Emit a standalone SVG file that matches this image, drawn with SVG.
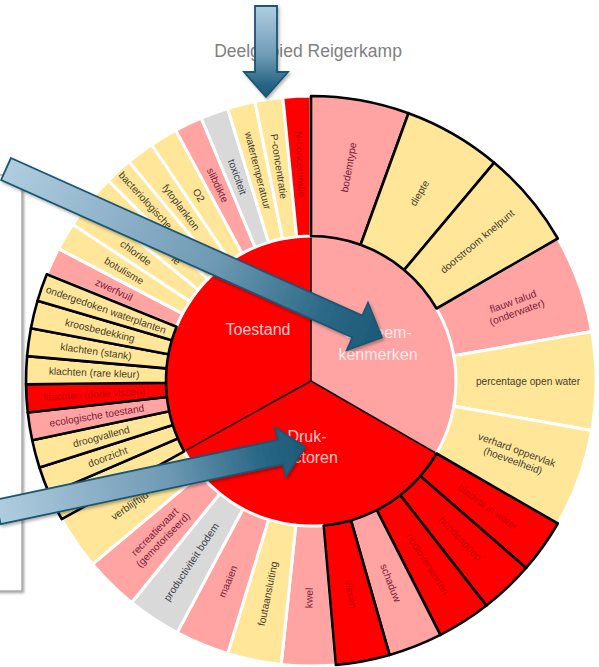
<svg xmlns="http://www.w3.org/2000/svg" width="599" height="667" viewBox="0 0 599 667">
<defs>
<style>
.f{font-family:"Liberation Sans",Arial,sans-serif}
.t{font-size:10.2px;text-anchor:middle}
.y{fill:#FFE699}.p{fill:#FFA3A3}.r{fill:#FF0000}.g{fill:#D9D9D9}
.w{stroke:#fff;stroke-width:3;stroke-linejoin:round}
.k{stroke:#000;stroke-width:2.6;stroke-linejoin:round}
.ty{fill:#45402E}.tp{fill:#7A2036}.tr{fill:#C40000}.tg{fill:#3F4048}
.in{font-size:16px;text-anchor:middle;fill:#fff;fill-opacity:.8}
.arr{stroke:#1A5673;stroke-width:1.8;stroke-linejoin:miter;filter:url(#sh)}
</style>
<path id="T" d="M0,-145 L0,-285 A285,285 0 0 1 28.141,-283.607 L14.317,-144.291 A145,145 0 0 0 0,-145 Z"/>
<path id="D" d="M0,-145 L0,-285 A285,285 0 0 1 54.381,-279.764 L27.667,-142.336 A145,145 0 0 0 0,-145 Z"/>
<path id="S" d="M0,-145 L0,-285 A285,285 0 0 1 97.476,-267.812 L49.593,-136.255 A145,145 0 0 0 0,-145 Z"/>
<filter id="sh" x="-10%" y="-10%" width="120%" height="130%"><feDropShadow dx="1.5" dy="2" stdDeviation="1.5" flood-color="#000" flood-opacity="0.3"/></filter>
<filter id="bs" x="-50%" y="-5%" width="200%" height="110%"><feDropShadow dx="1.5" dy="1.5" stdDeviation="1.2" flood-color="#000" flood-opacity="0.35"/></filter>
<linearGradient id="g1" gradientUnits="userSpaceOnUse" x1="266" y1="6" x2="266" y2="97"><stop offset="0" stop-color="#B0CDE0"/><stop offset="0.55" stop-color="#6F9AB4"/><stop offset="0.85" stop-color="#2A6886"/><stop offset="1" stop-color="#1C5A78"/></linearGradient>
<linearGradient id="g2" gradientUnits="userSpaceOnUse" x1="6" y1="169" x2="382" y2="337.5"><stop offset="0" stop-color="#B0CDE0"/><stop offset="0.55" stop-color="#6F9AB4"/><stop offset="0.85" stop-color="#2A6886"/><stop offset="1" stop-color="#1C5A78"/></linearGradient>
<linearGradient id="g3" gradientUnits="userSpaceOnUse" x1="-2" y1="512" x2="305" y2="447"><stop offset="0" stop-color="#B0CDE0"/><stop offset="0.55" stop-color="#6F9AB4"/><stop offset="0.85" stop-color="#2A6886"/><stop offset="1" stop-color="#1C5A78"/></linearGradient>
</defs>
<rect width="599" height="667" fill="#fff"/>

<g id="side-panel"><rect x="-10" y="175" width="32" height="416" fill="#fff" stroke="#A0A0A0" stroke-width="1.3" filter="url(#bs)"/></g>

<g id="title"><text class="f" x="308" y="57" font-size="17.5" fill="#808080" text-anchor="middle">Deelgebied Reigerkamp</text></g>

<g id="sunburst" transform="translate(311,381)">
<g id="sector-systeemkenmerken"><path d="M0,0 L0,-145 A145,145 0 0 1 125.574,72.5 Z" class="p"/></g>
<g id="sector-drukfactoren"><path d="M0,0 L125.574,72.5 A145,145 0 0 1 -126.82,70.3 Z" class="r"/></g>
<g id="sector-toestand"><path d="M0,0 L-126.82,70.3 A145,145 0 0 1 0,-145 Z" class="r"/></g>
<path d="M0,-145 L0,0 L125.574,72.5 M0,0 L-126.82,70.3" fill="none" stroke="#000" stroke-width="1.5"/>

<!-- white bordered leaves -->
<g id="leaf-flauw-talud"><use href="#S" class="p w" transform="rotate(60)"/><text class="f t tp" transform="rotate(70) translate(0,-217) rotate(-90)"><tspan x="0" y="-2.2">flauw talud</tspan><tspan x="0" y="9.3">(onderwater)</tspan></text></g>
<g id="leaf-percentage-open-water"><use href="#S" class="y w" transform="rotate(80)"/><text class="f t ty" transform="rotate(90) translate(0,-217) rotate(-90)" dy="3.5">percentage open water</text></g>
<g id="leaf-verhard-oppervlak"><use href="#S" class="y w" transform="rotate(100)"/><text class="f t ty" transform="rotate(110) translate(0,-217) rotate(-90)"><tspan x="0" y="-2.2">verhard oppervlak</tspan><tspan x="0" y="9.3">(hoeveelheid)</tspan></text></g>

<g id="leaf-kwel"><use href="#D" class="p w" transform="rotate(175)"/><text class="f t tp" transform="rotate(180.5) translate(0,-217) rotate(90)" dy="3.5">kwel</text></g>
<g id="leaf-foutaansluiting"><use href="#D" class="y w" transform="rotate(186)"/><text class="f t ty" transform="rotate(191.5) translate(0,-217) rotate(90)" dy="3.5">foutaansluiting</text></g>
<g id="leaf-maaien"><use href="#D" class="p w" transform="rotate(197)"/><text class="f t tp" transform="rotate(202.5) translate(0,-217) rotate(90)" dy="3.5">maaien</text></g>
<g id="leaf-productiviteit-bodem"><use href="#D" class="g w" transform="rotate(208)"/><text class="f t tg" transform="rotate(213.5) translate(0,-217) rotate(90)" dy="3.5">productiviteit bodem</text></g>
<g id="leaf-recreatievaart"><use href="#D" class="p w" transform="rotate(219)"/><text class="f t tp" transform="rotate(224.5) translate(0,-217) rotate(90)"><tspan x="0" y="-2.2">recreatievaart</tspan><tspan x="0" y="9.3">(gemotoriseerd)</tspan></text></g>
<g id="leaf-verblijftijd"><use href="#D" class="y w" transform="rotate(230)"/><text class="f t ty" transform="rotate(235.5) translate(0,-220) rotate(90)" dy="3.5">verblijftijd</text></g>

<g id="leaf-zwerfvuil"><use href="#T" class="p w" transform="rotate(292)"/><text class="f t tp" transform="rotate(294.833) translate(0,-217) rotate(90)" dy="3.5">zwerfvuil</text></g>
<g id="leaf-botulisme"><use href="#T" class="y w" transform="rotate(297.667)"/><text class="f t ty" transform="rotate(300.5) translate(0,-217) rotate(90)" dy="3.5">botulisme</text></g>
<g id="leaf-chloride"><use href="#T" class="y w" transform="rotate(303.333)"/><text class="f t ty" transform="rotate(306.167) translate(0,-217) rotate(90)" dy="3.5">chloride</text></g>
<g id="leaf-hidden-ie"><use href="#T" class="y w" transform="rotate(309)"/><text class="f t ty" text-anchor="end" style="text-anchor:end" transform="rotate(311.833) translate(0,-177) rotate(90)" dy="3.5">ie</text></g>
<g id="leaf-bacteriologische"><use href="#T" class="y w" transform="rotate(314.667)"/><text class="f t ty" style="text-anchor:start" transform="rotate(317.5) translate(0,-282) rotate(90)" dy="3.5">bacteriologische</text></g>
<g id="leaf-fytoplankton"><use href="#T" class="y w" transform="rotate(320.333)"/><text class="f t ty" transform="rotate(323.167) translate(0,-217) rotate(90)" dy="3.5">fytoplankton</text></g>
<g id="leaf-o2"><use href="#T" class="y w" transform="rotate(326)"/><text class="f t ty" transform="rotate(328.833) translate(0,-217) rotate(90)" dy="3.5">O2</text></g>
<g id="leaf-slibdikte"><use href="#T" class="p w" transform="rotate(331.667)"/><text class="f t tp" transform="rotate(334.5) translate(0,-217) rotate(90)" dy="3.5">slibdikte</text></g>
<g id="leaf-toxiciteit"><use href="#T" class="g w" transform="rotate(337.333)"/><text class="f t tg" transform="rotate(340.167) translate(0,-217) rotate(90)" dy="3.5">toxiciteit</text></g>
<g id="leaf-watertemperatuur"><use href="#T" class="y w" transform="rotate(343)"/><text class="f t ty" transform="rotate(345.833) translate(0,-217) rotate(90)" dy="3.5">watertemperatuur</text></g>
<g id="leaf-p-concentratie"><use href="#T" class="y w" transform="rotate(348.667)"/><text class="f t ty" transform="rotate(351.5) translate(0,-217) rotate(90)" dy="3.5">P-concentratie</text></g>
<g id="leaf-n-concentratie"><use href="#T" class="r w" transform="rotate(354.333)"/><text class="f t tr" transform="rotate(357.167) translate(0,-217) rotate(90)" dy="3.5">N-concentratie</text></g>

<!-- black bordered leaves -->
<g id="leaf-bodemtype"><use href="#S" class="p k"/><text class="f t tp" transform="rotate(10) translate(0,-217) rotate(-90)" dy="3.5">bodemtype</text></g>
<g id="leaf-diepte"><use href="#S" class="y k" transform="rotate(20)"/><text class="f t ty" transform="rotate(30) translate(0,-217) rotate(-90)" dy="3.5">diepte</text></g>
<g id="leaf-doorstroom-knelpunt"><use href="#S" class="y k" transform="rotate(40)"/><text class="f t ty" transform="rotate(50) translate(0,-217) rotate(-90)" dy="3.5">doorstroom knelpunt</text></g>

<g id="leaf-bladval-in-water"><use href="#D" class="r k" transform="rotate(120)"/><text class="f t tr" transform="rotate(125.5) translate(0,-217) rotate(-90)" dy="3.5">bladval in water</text></g>
<g id="leaf-hondenpoep"><use href="#D" class="r k" transform="rotate(131)"/><text class="f t tr" transform="rotate(136.5) translate(0,-217) rotate(-90)" dy="3.5">hondenpoep</text></g>
<g id="leaf-riooloverstorten"><use href="#D" class="r k" transform="rotate(142)"/><text class="f t tr" transform="rotate(147.5) translate(0,-217) rotate(-90)" dy="3.5">riooloverstorten</text></g>
<g id="leaf-schaduw"><use href="#D" class="p k" transform="rotate(153)"/><text class="f t tp" transform="rotate(158.5) translate(0,-217) rotate(-90)" dy="3.5">schaduw</text></g>
<g id="leaf-vissen"><use href="#D" class="r k" transform="rotate(164)"/><text class="f t tr" transform="rotate(169.5) translate(0,-217) rotate(-90)" dy="3.5">vissen</text></g>

<g id="leaf-hidden"><use href="#T" class="y k" transform="rotate(241)"/></g>
<g id="leaf-doorzicht"><use href="#T" class="y k" transform="rotate(246.667)"/><text class="f t ty" transform="rotate(249.5) translate(0,-217) rotate(90)" dy="3.5">doorzicht</text></g>
<g id="leaf-droogvallend"><use href="#T" class="y k" transform="rotate(252.333)"/><text class="f t ty" transform="rotate(255.167) translate(0,-217) rotate(90)" dy="3.5">droogvallend</text></g>
<g id="leaf-ecologische-toestand"><use href="#T" class="p k" transform="rotate(258)"/><text class="f t tp" transform="rotate(260.833) translate(0,-217) rotate(90)" dy="3.5">ecologische toestand</text></g>
<g id="leaf-klachten-dode-vissen"><use href="#T" class="r k" transform="rotate(263.667)"/><text class="f t tr" transform="rotate(266.5) translate(0,-217) rotate(90)" dy="3.5">klachten (dode vissen)</text></g>
<g id="leaf-klachten-rare-kleur"><use href="#T" class="y k" transform="rotate(269.333)"/><text class="f t ty" transform="rotate(272.167) translate(0,-217) rotate(90)" dy="3.5">klachten (rare kleur)</text></g>
<g id="leaf-klachten-stank"><use href="#T" class="y k" transform="rotate(275)"/><text class="f t ty" transform="rotate(277.833) translate(0,-217) rotate(90)" dy="3.5">klachten (stank)</text></g>
<g id="leaf-kroosbedekking"><use href="#T" class="y k" transform="rotate(280.667)"/><text class="f t ty" transform="rotate(283.5) translate(0,-217) rotate(90)" dy="3.5">kroosbedekking</text></g>
<g id="leaf-ondergedoken-waterplanten"><use href="#T" class="y k" transform="rotate(286.333)"/><text class="f t ty" transform="rotate(289.167) translate(0,-217) rotate(90)" dy="3.5">ondergedoken waterplanten</text></g>

<g id="label-toestand"><text class="f in" x="-53" y="-46">Toestand</text></g>
<g id="label-systeemkenmerken"><text class="f in" x="67" y="-43">Systeem-</text><text class="f in" x="67" y="-21">kenmerken</text></g>
<g id="label-drukfactoren"><text class="f in" x="-4" y="61">Druk-</text><text class="f in" x="-2" y="82">factoren</text></g>
</g>

<g id="arrows">
<polygon class="arr" fill="url(#g1)" points="255,6 277,6 277,72 288,72 266,97 244,72 255,72"/>
<polygon class="arr" fill="url(#g2)" points="10.91,158.05 362.27,315.51 367.99,302.73 382,337.5 346.73,350.19 352.45,337.41 1.09,179.95"/>
<polygon class="arr" fill="url(#g3)" points="-4.59,499.77 277.95,439.95 275.36,427.72 305,447 285.72,476.64 283.13,464.41 0.59,524.23"/>
</g>
</svg>
